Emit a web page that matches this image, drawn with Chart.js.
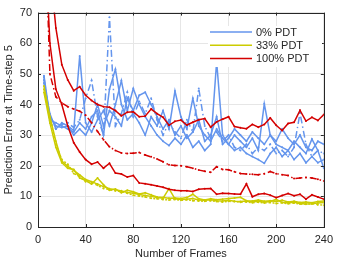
<!DOCTYPE html>
<html><head><meta charset="utf-8">
<script src="https://cdn.jsdelivr.net/npm/chart.js@4/dist/chart.umd.min.js"></script>
<style>html,body{margin:0;padding:0;background:#fff}#wrap{width:339px;height:263px}</style>
</head><body><div id="wrap"><canvas id="c"></canvas></div>
<script>
const frames = [5,10,15,20,25,30,35,40,45,50,55,60,65,70,75,80,85,90,95,100,105,110,115,120,125,130,135,140,145,150,155,160,165,170,175,180,185,190,195,200,205,210,215,220,225,230,235,240];
const xTicks = [0,40,80,120,160,200,240];
const yTicks = [0,10,20,30,40,50,60,70];
const legendLabels = ['0% PDT','33% PDT','100% PDT'];

// 0% PDT (blue)
const blueA = [49.4,36,33,32.5,33,31.5,55.8,34,31,35,38,33,40,47.8,38,45.2,40,36,33,30,28,26.6,29,27,30,26,28,25,27,54,30,27,25,26,24,23,22,20.8,24,26,23,25,22,24,21,23,21,22];
const blueB = [48,35,34,33,32,31,34,32,36,38,30,45,51.5,40,35,37,34,30,36,33,38,32,44.4,36,32,42,33,30,28,32,29,27,30,28,26,29,25,40.2,30,27,26,25,28,26,24,28.7,25,19.2];
const blueC = [47,37,32,34,33,30,32,30,34,40,33,38,36,33,42,38,43,44,40,36,32,35,30,33,29,31,35,28,30,36,27,29,32,30,28,31,29,27,30,28,32,29,27,30,26,25,28,27];
const blueD = [49,34,32,33.5,34,32.5,35,42,47.8,36,30,68.5,33,37,44,36,41,37,42,35,30,34,31,29,35,31,45.2,33,29,31,28,30,26,25,27,24,26,25,27,24,25,23,26,37.2,27,23,25,24];
// 33% PDT (yellow)
const yellowA = [46,36,28,21.5,19.8,18.5,17,15.5,14.8,14,13.2,12.5,12.2,11.8,11.3,11,10.6,10.3,10,9.6,9.4,12.5,9.2,9,9.1,9.3,8.8,8.7,8.9,8.6,8.5,8.7,8.4,8.3,8.5,8.2,8.4,8.1,8.3,9,8,7.9,8.1,7.7,7.5,7.6,7.8,8];
const yellowB = [44,34,26,21,19.2,18.8,16,15.2,14,16,13.8,12,12.4,11.2,12,11.5,10.8,11.2,10.5,9.8,9.6,9.4,9.5,9.3,9.6,10.7,9.2,8.8,9.2,8.9,9.1,9.3,9.5,9.7,8.6,8.5,8.8,8.4,8.6,8.3,8.7,8.2,8.4,8,8.2,7.9,8.3,8.5];
const yellowC = [45,35,27,22,20.5,17.5,16.5,14.8,14.4,13.6,12.6,12.2,11.8,11.6,11,10.4,10.1,9.8,9.4,9.2,9,8.8,9,8.7,8.9,8.6,8.5,8.4,8.6,8.3,8.2,8.4,8.3,8.1,8.2,7.9,8.1,7.8,8,7.7,7.9,7.6,7.8,7.5,7.4,7.6,7.3,7.1];
// 100% PDT (red)
const redA = [120,85,65,53,48,44.5,45.8,43,41.3,40,39.3,39.1,38,36.3,37.5,37.6,36,36.2,38.5,37,35.8,33.2,34.5,34.9,33.3,34.2,35,35.4,32.6,34.3,35.2,36,32.8,32.4,32.1,33.5,32.6,33.5,35.6,33.2,31.5,33.8,34.2,38.1,34.6,35.8,34.8,36.7];
const redB = [110,50,42.5,40.5,39.3,38.5,37.8,36.5,34,31.2,28.5,26.2,25,24.2,24,24.1,24.3,23.5,22.9,22.2,21.3,20.3,20.1,20,19.7,19.2,18.6,18.2,17.9,19.7,18.8,18.7,18,17.5,17.3,17.2,17.1,17.4,18.1,17.4,17.1,16.8,15.8,16,16.2,16,15.6,15];
const redC = [100,60,45,40,33,27.5,24.5,22,20.5,21.2,19.2,20.8,17.6,17.3,16.3,16.8,14.4,14.1,13.8,13.4,13,12.3,12,11.8,11.8,11.6,12.3,12.5,12.6,10.7,11,10.9,10.8,10.7,14.1,9.9,10.7,10.9,10.4,9.6,10.3,10.9,10.2,10.7,9.1,10.5,9.8,9.1];

const BLUE = '#6495ed', YELLOW = '#cccc00', RED = '#d40000';
const DASHDOT = [7,3,1.5,3];
const pts = arr => arr.map((v,i)=>({x:frames[i], y:v}));
function ds(arr, color, dash, order){
  return {data: pts(arr), borderColor: color, backgroundColor: color, borderWidth: 1.5,
    borderDash: dash || [], pointRadius: 1, pointHoverRadius: 0, pointBorderWidth: 0,
    tension: 0, fill: false, order: order};
}
const datasets = [
  ds(blueA, BLUE, null, 30), ds(blueB, BLUE, null, 31), ds(blueC, BLUE, null, 32), ds(blueD, BLUE, DASHDOT, 29),
  ds(yellowA, YELLOW, null, 22), ds(yellowB, YELLOW, null, 21), ds(yellowC, YELLOW, [2,2], 20),
  ds(redA, RED, null, 12), ds(redB, RED, DASHDOT, 11), ds(redC, RED, null, 10)
];
const legendColors = [BLUE, YELLOW, RED];

const FONT = '"Liberation Sans", Arial, Helvetica, sans-serif';
const boxPlugin = {
  id: 'box',
  afterDraw(chart){
    const {ctx, chartArea: a, scales: {x, y}} = chart;
    ctx.save();
    ctx.strokeStyle = '#262626'; ctx.lineWidth = 1;
    ctx.strokeRect(Math.round(a.left)+0.5, Math.round(a.top)+0.5, Math.round(a.right-a.left), Math.round(a.bottom-a.top));
    ctx.beginPath();
    const tl = 3;
    xTicks.forEach(t=>{ const px = Math.round(x.getPixelForValue(t))+0.5;
      ctx.moveTo(px, a.bottom); ctx.lineTo(px, a.bottom-tl); ctx.moveTo(px, a.top); ctx.lineTo(px, a.top+tl); });
    yTicks.forEach(t=>{ const py = Math.round(y.getPixelForValue(t))+0.5;
      ctx.moveTo(a.left, py); ctx.lineTo(a.left+tl, py); ctx.moveTo(a.right, py); ctx.lineTo(a.right-tl, py); });
    ctx.stroke();
    // legend
    const lx = 208, ly = 26, lw = 114, lh = 41;
    ctx.fillStyle = '#fff'; ctx.fillRect(lx, ly, lw, lh);
    ctx.font = '11px ' + FONT; ctx.textBaseline = 'middle'; ctx.textAlign = 'left';
    legendLabels.forEach((lab, i)=>{
      const yy = 32 + i*13.3;
      ctx.strokeStyle = legendColors[i]; ctx.lineWidth = 1.5; ctx.setLineDash([]);
      ctx.beginPath(); ctx.moveTo(210, yy); ctx.lineTo(252, yy); ctx.stroke();
      ctx.fillStyle = '#262626'; ctx.fillText(lab, 256, yy+0.5);
    });
    ctx.restore();
  }
};

new Chart(document.getElementById('c'), {
  type: 'line',
  data: { datasets },
  options: {
    responsive: true, maintainAspectRatio: false, animation: false,
    devicePixelRatio: 1,
    layout: { padding: { top: 7, right: 12, left: 0, bottom: 0 } },
    plugins: { legend: { display: false }, tooltip: { enabled: false } },
    scales: {
      x: {
        type: 'linear', min: 0, max: 240,
        afterBuildTicks: s => { s.ticks = xTicks.map(v=>({value:v})); },
        afterFit: s => { s.height = 36; },
        grid: { color: '#e6e6e6', drawTicks: false },
        border: { display: false },
        ticks: { color: '#262626', font: { family: FONT, size: 11 }, padding: 6, maxRotation: 0 },
        title: { display: true, text: 'Number of Frames', color: '#262626', font: { family: FONT, size: 11 }, padding: { top: 0, bottom: 2 } }
      },
      y: {
        min: 0, max: 70,
        afterBuildTicks: s => { s.ticks = yTicks.map(v=>({value:v})); },
        afterFit: s => { s.width = 38; },
        grid: { color: '#e6e6e6', drawTicks: false },
        border: { display: false },
        ticks: { color: '#262626', font: { family: FONT, size: 11 }, padding: 6 },
        title: { display: true, text: 'Prediction Error at Time-step 5', color: '#262626', font: { family: FONT, size: 11 }, padding: { top: 2, bottom: 0 } }
      }
    }
  },
  plugins: [boxPlugin]
});
</script>
</body></html>
